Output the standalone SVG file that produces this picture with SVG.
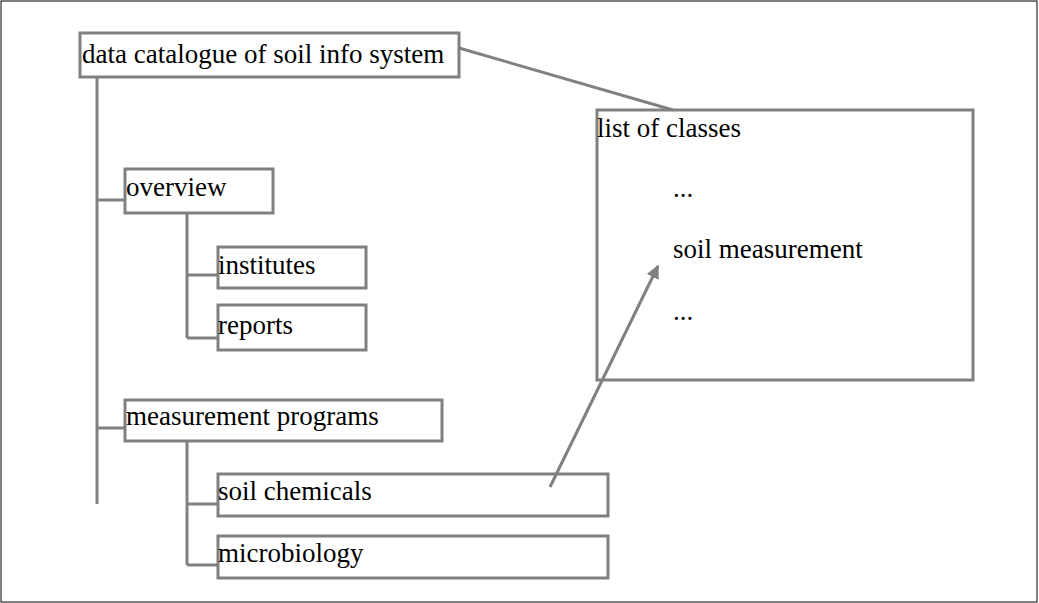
<svg xmlns="http://www.w3.org/2000/svg" width="1039" height="603" viewBox="0 0 1039 603">
<style>
.box{fill:#fff;stroke:#808080;stroke-width:3}
.ln{fill:none;stroke:#808080;stroke-width:3}
text{font-family:"Liberation Serif","Times New Roman",serif;font-size:27px;fill:#000}
</style>
<defs>
<marker id="ah" viewBox="0 0 10 10" refX="9" refY="5" markerWidth="4.5" markerHeight="4.5" markerUnits="strokeWidth" orient="auto">
<path d="M0,0 L10,5 L0,10 z" fill="#808080"/>
</marker>
</defs>
<rect x="1" y="1" width="1036" height="601" fill="#fff" stroke="#000" stroke-width="1"/>
<g id="root"><rect class="box" x="80" y="33" width="379" height="44"/><text x="82" y="63">data catalogue of soil info system</text></g>
<g id="overview"><rect class="box" x="125" y="169" width="148" height="44"/><text x="126" y="196">overview</text></g>
<g id="institutes"><rect class="box" x="218" y="247" width="148" height="41"/><text x="218" y="274">institutes</text></g>
<g id="reports"><rect class="box" x="218" y="305" width="148" height="45"/><text x="218" y="334">reports</text></g>
<g id="measurement"><rect class="box" x="125" y="400" width="317" height="41"/><text x="126" y="425">measurement programs</text></g>
<g id="chemicals"><rect class="box" x="218" y="474" width="390" height="42"/><text x="218" y="500">soil chemicals</text></g>
<g id="microbiology"><rect class="box" x="218" y="536" width="390" height="42"/><text x="218" y="562">microbiology</text></g>
<g id="classes"><rect class="box" x="597" y="110" width="376" height="270"/><text x="597" y="137">list of classes</text><text x="673" y="197">...</text><text x="673" y="258">soil measurement</text><text x="673" y="320">...</text></g>
<g id="connectors">
<path class="ln" d="M97,78 V504 M97,200 H124 M97,428 H124"/>
<path class="ln" d="M187,214 V338 M187,275 H217 M187,338 H217"/>
<path class="ln" d="M187,442 V565 M187,504 H217 M187,565 H217"/>
<path class="ln" d="M459,48 L673,110"/>
<path class="ln" d="M550,487 L658,266" marker-end="url(#ah)"/>
</g>
</svg>
